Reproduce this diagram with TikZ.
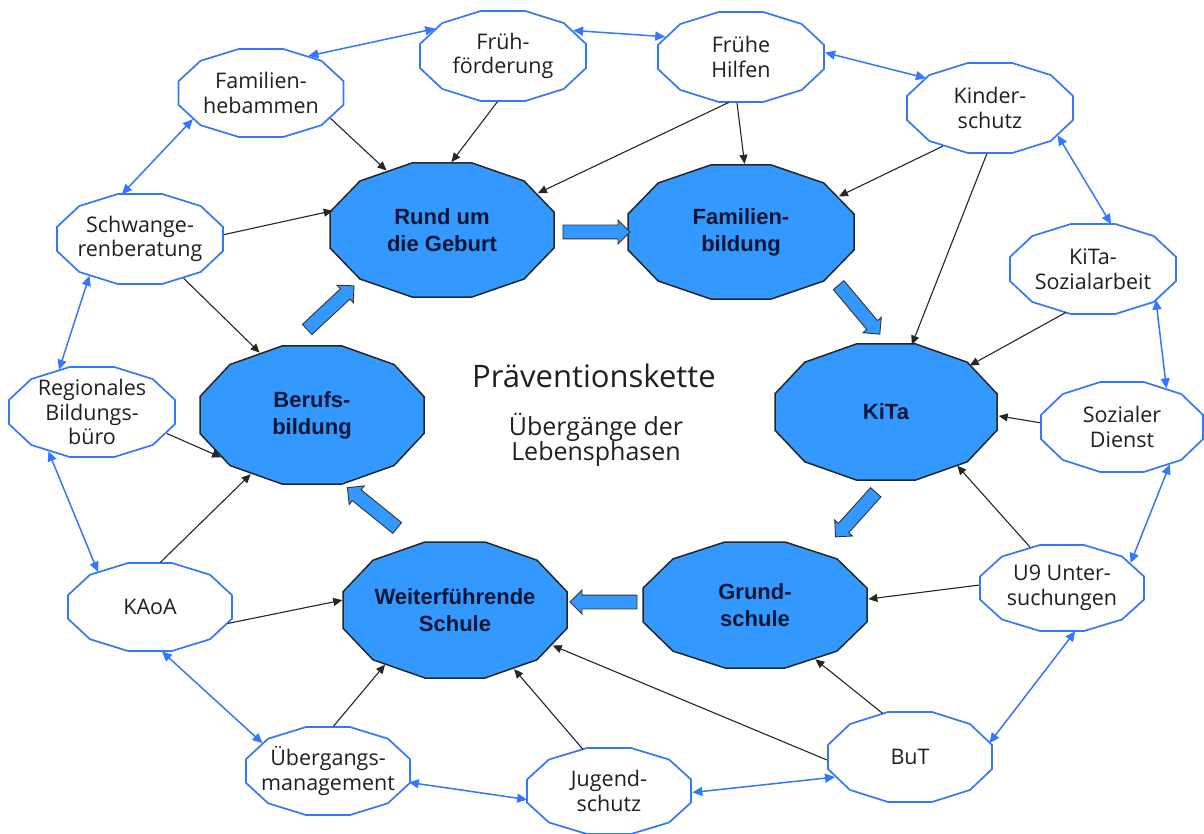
\documentclass[tikz,border=0pt]{standalone}
\usepackage{fontspec}
\setmainfont{Open Sans}
\newfontfamily\arialfont{Liberation Sans}
\usetikzlibrary{shapes.geometric,shapes.arrows,arrows.meta}
\definecolor{ringblue}{RGB}{51,119,255}
\definecolor{fillblue}{RGB}{51,153,255}
\definecolor{navy}{RGB}{12,22,52}
\definecolor{txtgray}{RGB}{32,32,36}
\tikzset{
  outerpoly/.style={draw=ringblue, line width=1.7pt, fill=white},
  innerpoly/.style={draw=black!85, line width=1.5pt, fill=fillblue},
  outertxt/.style={font=\fontsize{21.5}{24.5}\selectfont, text=txtgray, align=center},
  innertxt/.style={font=\arialfont\bfseries\fontsize{22}{27}\selectfont, text=navy, align=center},
  anch/.style={ellipse, inner sep=0pt, draw=none},
  feed/.style={-{Triangle[length=9pt,width=8pt]}, line width=1.1pt, draw=black!85},
  ring/.style={{Triangle[length=10pt,width=9pt]}-{Triangle[length=10pt,width=9pt]}, line width=1.5pt, draw=ringblue},
  blockarr/.style={single arrow, draw=black!80, fill=fillblue, line width=0.9pt,
    inner xsep=0pt, inner ysep=6.5pt, single arrow head extend=5pt, single arrow head indent=0pt},
  titletxt/.style={font=\fontsize{31}{34}\selectfont, text=txtgray, anchor=base},
  subtxt/.style={font=\fontsize{25}{25}\selectfont, text=txtgray, anchor=base}
}
% #1 outer/inner, #2 name, #3 x, #4 y, #5 half width, #6 half height, #7 text
\newcommand\dodec[7]{%
  \begin{scope}[shift={(#3,#4)}]
    \path[#1poly] (15:{#5/0.9659} and {#6/0.9659})
      \foreach \a in {45,75,...,345}{ -- (\a:{#5/0.9659} and {#6/0.9659})} -- cycle;
  \end{scope}
  \node[anch, minimum width={2.03*#5}, minimum height={2.03*#6}] (#2) at (#3,#4) {};
  \node[#1txt] (#2-t) at (#3,#4) {#7};
}
\begin{document}
\begin{tikzpicture}[x=1pt,y=-1pt]
\useasboundingbox (0,0) rectangle (1204,834);
\fill[white] (0,0) rectangle (1204,834);

% outer ring
\dodec{outer}{fh}{261}{93}{82.5}{44}{Familien-\\hebammen}
\dodec{outer}{ff}{503}{56}{83}{45}{Früh-\\förderung}
\dodec{outer}{frh}{741}{57}{83}{45}{Frühe\\Hilfen}
\dodec{outer}{ks}{990}{108}{83}{45}{Kinder-\\schutz}
\dodec{outer}{schw}{140}{239}{83}{45}{Schwange-\\renberatung}
\dodec{outer}{kitas}{1093}{269}{83}{45}{KiTa-\\Sozialarbeit}
\dodec{outer}{reg}{92}{412}{83}{45}{Regionales\\Bildungs-\\büro}
\dodec{outer}{sozd}{1122}{427}{81}{45}{Sozialer\\Dienst}
\dodec{outer}{kaoa}{150}{607}{82}{44}{KAoA}
\dodec{outer}{u9}{1062}{588}{82}{43}{U9 Unter-\\suchungen}
\dodec{outer}{ueb}{328}{771}{82}{44}{Übergangs-\\management}
\dodec{outer}{jug}{609}{791}{82}{43}{Jugend-\\schutz}
\dodec{outer}{but}{910}{757}{82}{45}{BuT}

% inner chain
\dodec{inner}{rund}{442}{230}{112}{67}{Rund um\\die Geburt}
\dodec{inner}{fam}{741}{232}{113}{67}{Familien-\\bildung}
\dodec{inner}{kita}{886}{412}{111}{68}{KiTa}
\dodec{inner}{grund}{755}{605}{112}{63}{Grund-\\schule}
\dodec{inner}{weiter}{455}{610}{112}{68}{Weiterführende\\Schule}
\dodec{inner}{beruf}{312}{415}{112}{69}{Berufs-\\bildung}

% title
\node[titletxt] (title) at (594,387) {Präventionskette};
\node[subtxt] (sub1) at (596,435) {Übergänge der};
\node[subtxt] (sub2) at (596,460) {Lebensphasen};

% block arrows
\node[blockarr, minimum height=67pt, rotate=0] (b1) at (593,232) {};
\node[blockarr, minimum height=64pt, rotate=-50] (b2) at (857,307) {};
\node[blockarr, minimum height=60pt, rotate=-132] (b3) at (858,512) {};
\node[blockarr, minimum height=67pt, rotate=180] (b4) at (607,602) {};
\node[blockarr, minimum height=64pt, rotate=141] (b5) at (375,510) {};
\node[blockarr, minimum height=64pt, rotate=43] (b6) at (328,310) {};

% feeding arrows
\draw[feed] (fh.-20) -- (rund.133);
\draw[feed] (ff.-97) -- (rund.82);
\draw[feed] (frh.-105) -- (rund.21);
\draw[feed] (frh.-95) -- (fam.87);
\draw[feed] (ks.-141) -- (fam.20);
\draw[feed] (ks.-94) -- (kita.69);
\draw[feed] (schw.3) -- (rund.170);
\draw[feed] (schw.-42) -- (beruf.130);
\draw[feed] (kitas.-122) -- (kita.29);
\draw[feed] (sozd.177) -- (kita.-2);
\draw[feed] (u9.128) -- (kita.-37);
\draw[feed] (u9.178) -- (grund.3);
\draw[feed] (reg.-16) -- (beruf.205);
\draw[feed] (kaoa.77) -- (beruf.224);
\draw[feed] (kaoa.-12) -- (weiter.175);
\draw[feed] (ueb.83) -- (weiter.218);
\draw[feed] (jug.122) -- (weiter.-45);
\draw[feed] (but.122) -- (grund.-42);
\draw[feed] (but.182) -- (weiter.-20);

% ring arrows
\draw[ring] (fh.38) -- (ff.158);
\draw[ring] (ff.20) -- (frh.165);
\draw[ring] (frh.3) -- (ks.155);
\draw[ring] (ks.-22) -- (kitas.68);
\draw[ring] (kitas.-26) -- (sozd.41);
\draw[ring] (sozd.-38) -- (u9.20);
\draw[ring] (u9.-73) -- (but.10);
\draw[ring] (but.195) -- (jug.-1);
\draw[ring] (jug.186) -- (ueb.-8);
\draw[ring] (ueb.157) -- (kaoa.-75);
\draw[ring] (kaoa.146) -- (reg.222);
\draw[ring] (reg.128) -- (schw.216);
\draw[ring] (schw.112) -- (fh.201);
\end{tikzpicture}
\end{document}
